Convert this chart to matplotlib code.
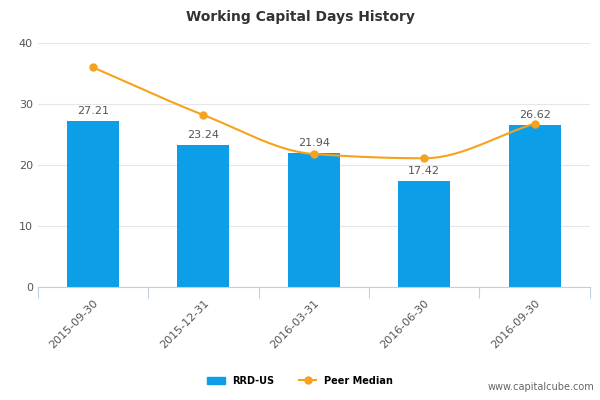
import matplotlib
matplotlib.use('Agg')
import matplotlib.pyplot as plt
import numpy as np
from matplotlib.lines import Line2D
from matplotlib.patches import Patch

dates = ['2015-09-30', '2015-12-31', '2016-03-31', '2016-06-30', '2016-09-30']
rrd = [27.21, 23.24, 21.94, 17.42, 26.62]
peer = [36.0, 28.2, 21.8, 21.1, 26.8]

bar_color = '#0c9fe8'
line_color = '#f7a21b'


def monotone_curve(x, y, n=40):
    # cubic hermite with monotone slopes, for a smooth connecting line
    x = np.asarray(x, float)
    y = np.asarray(y, float)
    d = np.diff(y) / np.diff(x)
    m = np.zeros_like(y)
    m[0], m[-1] = d[0], d[-1]
    for i in range(1, len(y) - 1):
        m[i] = 0 if d[i - 1] * d[i] <= 0 else 2 / (1 / d[i - 1] + 1 / d[i])
    xs, ys = [], []
    for i in range(len(x) - 1):
        h = x[i + 1] - x[i]
        t = np.linspace(0, 1, n)
        h00 = 2 * t**3 - 3 * t**2 + 1
        h10 = t**3 - 2 * t**2 + t
        h01 = -2 * t**3 + 3 * t**2
        h11 = t**3 - t**2
        xs.append(x[i] + t * h)
        ys.append(h00 * y[i] + h10 * h * m[i] + h01 * y[i + 1] + h11 * h * m[i + 1])
    return np.concatenate(xs), np.concatenate(ys)


fig = plt.figure(figsize=(6, 4), dpi=100)
ax = fig.add_axes([0.063, 0.2825, 0.92, 0.61])

x = np.arange(len(dates))
ax.bar(x, rrd, width=0.47, color=bar_color, zorder=2)
for xi, v in zip(x, rrd):
    ax.text(xi, v + 0.8, '%.2f' % v, ha='center', va='bottom', fontsize=8, color='#555555')

cx, cy = monotone_curve(x, peer)
ax.plot(cx, cy, color=line_color, lw=1.5, zorder=3)
ax.plot(x, peer, 'o', color=line_color, ms=5, zorder=4)

ax.set_xlim(-0.5, len(dates) - 0.5)
ax.set_ylim(0, 40)
ax.set_yticks([0, 10, 20, 30, 40])
ax.yaxis.grid(True, color='#e6e6e6', lw=0.8)
ax.set_axisbelow(True)
for s in ['top', 'right', 'left']:
    ax.spines[s].set_visible(False)
ax.spines['bottom'].set_color('#c0d0e0')
ax.tick_params(axis='y', length=0, labelsize=8, colors='#555555')
ax.set_xticks(np.arange(-0.5, len(dates), 1.0), minor=False)
ax.set_xticklabels([])
ax.tick_params(axis='x', length=8, color='#c0d0e0')
ax.set_xticks(x, minor=True)
ax.set_xticklabels(dates, minor=True, rotation=45, ha='right', rotation_mode='anchor',
                   fontsize=8, color='#555555')
ax.tick_params(axis='x', which='minor', length=0, pad=8)

fig.suptitle('Working Capital Days History', x=0.5, y=0.975, fontsize=10,
             fontweight='bold', color='#333333')

handles = [Patch(color=bar_color), Line2D([], [], color=line_color, marker='o', ms=5)]
fig.legend(handles, ['RRD-US', 'Peer Median'], loc='center', bbox_to_anchor=(0.5, 0.048),
           ncol=2, frameon=False, prop={'size': 7, 'weight': 'bold'}, handlelength=1.8,
           columnspacing=2.5)
fig.text(0.99, 0.02, 'www.capitalcube.com', ha='right', va='bottom', fontsize=7, color='#666666')

fig.savefig('out.png', dpi=100)
